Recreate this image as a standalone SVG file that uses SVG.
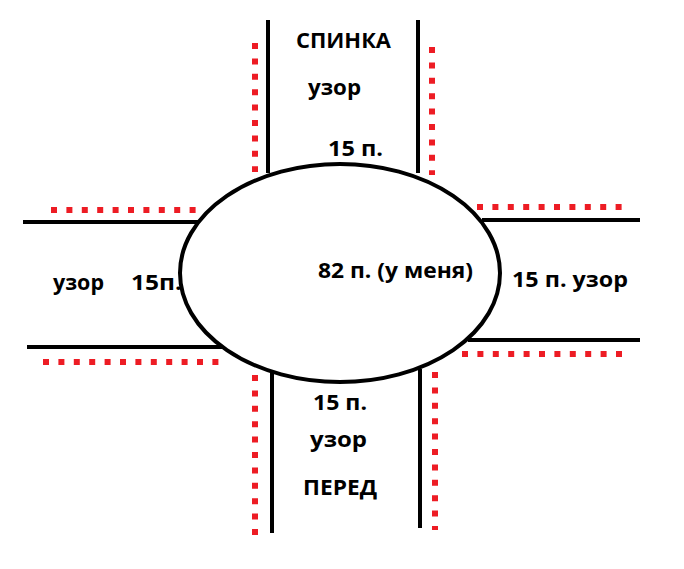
<svg xmlns="http://www.w3.org/2000/svg" width="684" height="569" viewBox="0 0 684 569">
<style>
.bl{stroke:#000;stroke-width:4;fill:none;stroke-linecap:butt}
.rd{stroke:#ED1C24;stroke-width:6;fill:none;stroke-dasharray:6 9.4}
.t{font-family:"Open Sans","Noto Sans","DejaVu Sans",sans-serif;font-weight:bold;fill:#000;font-size:22px}
</style>
<rect width="684" height="569" fill="#fff"/>
<g id="center">
<ellipse class="bl" cx="340" cy="273" rx="160" ry="109"/>
<text class="t" x="318" y="278" textLength="155" lengthAdjust="spacingAndGlyphs">82 п. (у меня)</text>
</g>
<g id="back">
<line class="bl" x1="268" y1="20" x2="268" y2="173"/>
<line class="bl" x1="418" y1="20" x2="418" y2="173"/>
<line class="rd" x1="255" y1="43" x2="255" y2="172"/>
<line class="rd" x1="432" y1="47" x2="432" y2="175"/>
<text class="t" x="296" y="48" font-size="20" textLength="95" lengthAdjust="spacingAndGlyphs">СПИНКА</text>
<text class="t" x="308" y="95" font-size="24" textLength="53" lengthAdjust="spacingAndGlyphs">узор</text>
<text class="t" x="328" y="156" textLength="55" lengthAdjust="spacingAndGlyphs">15 п.</text>
</g>
<g id="left">
<line class="bl" x1="23" y1="222" x2="198" y2="222"/>
<line class="bl" x1="27" y1="347" x2="222" y2="347"/>
<line class="rd" x1="51" y1="210" x2="200" y2="210"/>
<line class="rd" x1="43" y1="362" x2="222" y2="362"/>
<text class="t" x="53" y="290" textLength="51" lengthAdjust="spacingAndGlyphs">узор</text>
<text class="t" x="131" y="290" textLength="51" lengthAdjust="spacingAndGlyphs">15п.</text>
</g>
<g id="right">
<line class="bl" x1="482" y1="220" x2="640" y2="220"/>
<line class="bl" x1="468" y1="340" x2="640" y2="340"/>
<line class="rd" x1="477" y1="207" x2="626" y2="207"/>
<line class="rd" x1="462" y1="354" x2="630" y2="354"/>
<text class="t" x="512" y="287" textLength="116" lengthAdjust="spacingAndGlyphs">15 п. узор</text>
</g>
<g id="front">
<line class="bl" x1="272" y1="373" x2="272" y2="533"/>
<line class="bl" x1="420" y1="369" x2="420" y2="528"/>
<line class="rd" x1="255" y1="375" x2="255" y2="535"/>
<line class="rd" x1="435" y1="372" x2="435" y2="530"/>
<text class="t" x="313" y="410" textLength="54" lengthAdjust="spacingAndGlyphs">15 п.</text>
<text class="t" x="310" y="447" font-size="24" textLength="57" lengthAdjust="spacingAndGlyphs">узор</text>
<text class="t" x="303" y="495" font-size="23" textLength="74" lengthAdjust="spacingAndGlyphs">ПЕРЕД</text>
</g>
<g id="connectors"/>
</svg>
